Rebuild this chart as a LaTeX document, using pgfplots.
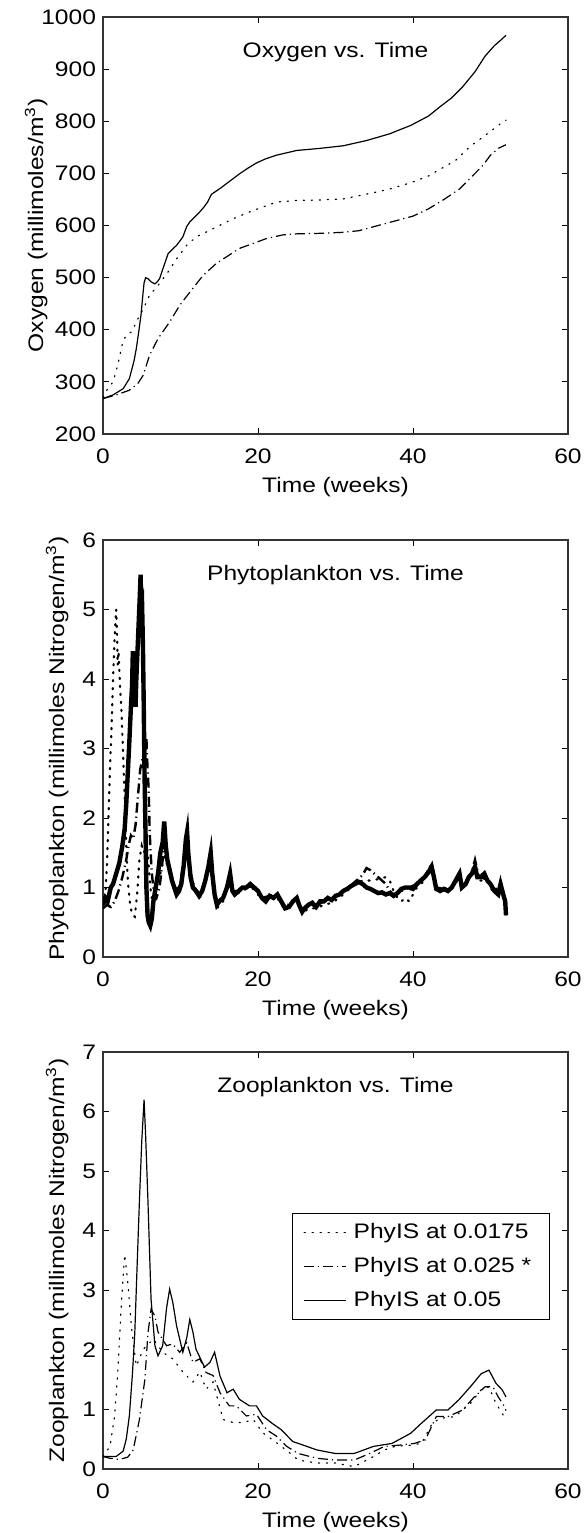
\documentclass[border=0pt]{standalone}
\usepackage{pgfplots}
\pgfplotsset{compat=1.18}
\usepackage{fontspec}
\setmainfont{Liberation Sans}[FakeStretch=1.17]
\newcommand{\fs}{\fontsize{10.5}{12.6}\selectfont}
\pgfplotsset{
  panel/.style={
    scale only axis, width=232.5pt, height=208.5pt,
    anchor=south west,
    xmin=0, xmax=60, xtick={0,20,40,60},
    tick align=inside, major tick length=3pt,
    tick style={black, line width=0.5pt},
    axis line style={line width=0.6pt, black!80},
    xlabel={Time (weeks)},
    label style={font=\fs},
    ticklabel style={font=\fs},
    xticklabel style={yshift=-4pt},
    xlabel style={yshift=0pt},
    /pgf/number format/assume math mode=true,
    /pgf/number format/1000 sep={},
    scaled ticks=false,
    every axis plot/.append style={black, line width=0.6pt},
  },
  sdot/.style={dash pattern=on 0.6pt off 3.4pt, line cap=round},
  sdd/.style={dash pattern=on 5pt off 2pt on 0.6pt off 2pt},
  ssol/.style={solid},
}
\begin{document}
\begin{tikzpicture}
\useasboundingbox (0pt,0pt) rectangle (293pt,-766.5pt);
% ---------------- Oxygen ----------------
\begin{axis}[panel, at={(51.5pt,-217pt)}, ymin=200, ymax=1000, ytick={200,300,...,1000},
  ylabel={Oxygen (millimoles/m\textsuperscript{3})}, ylabel shift=-10pt]
\addplot[sdot] coordinates {(0,270) (0.6,287) (1.3,300) (1.9,332) (2.6,380) (3.2,392) (3.7,396) (4.5,421) (5.2,440) (6.0,466) (7.1,485) (8.4,511) (9.5,536) (10.8,562) (12.0,578) (14.2,594) (16.8,613) (19.4,629) (22.4,645) (25,648) (28,649) (31,651) (34.9,663) (37,670) (39.7,682) (42,695) (43.5,708) (45.5,725) (47.4,752) (49.5,775) (51.7,800) (52,802)};
\addplot[sdd] coordinates {(0,268) (1.7,275) (3.4,284) (4.5,297) (5.2,313) (6.0,351) (7.1,383) (8.6,415) (9.9,447) (11.2,472) (12.9,504) (14.6,527) (17.6,556) (21.1,575) (23.2,582) (25,584) (28,585) (31,587) (33,590) (35,598) (38,610) (40,618) (42,632) (44,650) (46,670) (48,700) (49,715) (50,735) (51,748) (52,755)};
\addplot[ssol] coordinates {(0,268) (1.3,275) (2.6,287) (3.4,306) (4.0,340) (4.3,364) (4.6,395) (4.9,428) (5.1,460) (5.3,490) (5.5,500) (5.8,498) (6.2,492) (6.7,488) (7.0,492) (7.3,498) (7.8,520) (8.4,546) (9.0,555) (9.5,562) (10.3,578) (10.8,598) (11.2,607) (12.3,623) (13.0,635) (13.5,645) (14.0,660) (14.4,664) (15.2,672) (15.9,680) (16.8,690) (17.6,699) (18.7,710) (19.8,720) (21.0,728) (22.4,735) (25,744) (28,748) (31,753) (34,763) (37,776) (39.7,792) (42,810) (43.5,828) (45,845) (46.4,866) (48,895) (49.3,925) (50.5,945) (51.5,958) (52,965)};
\node[font=\fs] at (rel axis cs:0.5,0.915) {Oxygen vs. Time};
\end{axis}
% ---------------- Phytoplankton ----------------
\begin{axis}[panel, at={(51.5pt,-478.5pt)}, ymin=0, ymax=6, ytick={0,1,...,6},
  ylabel={Phytoplankton (millimoles Nitrogen/m\textsuperscript{3})}]
\addplot[sdot, line width=1.1pt] coordinates {(0,0.75) (0.3,0.9) (0.5,1.3) (0.7,2.0) (0.9,2.7) (1.1,3.3) (1.3,4.0) (1.5,4.6) (1.7,5.0) (1.8,4.7) (1.9,4.2) (2.0,4.4) (2.2,3.9) (2.4,3.5) (2.6,2.9) (2.8,2.3) (3.0,1.6) (3.2,1.1) (3.5,0.75) (3.8,0.6) (4.1,0.58) (4.4,0.9) (4.7,1.4) (5.0,1.6) (5.3,1.5) (5.6,1.7) (5.9,1.3) (6.2,0.9) (6.5,0.75) (6.8,0.9) (7.2,1.1) (7.6,1.3) (8.0,1.5) (8.3,1.3) (8.6,1.2) (9.0,1.05) (9.5,0.9) (10.0,1.0) (10.5,1.4) (10.8,1.7) (11.2,1.2) (11.8,0.95) (12.5,0.85) (13.2,1.05) (13.8,1.45) (14.2,1.1) (14.7,0.7) (15.5,0.8) (16.3,1.15) (16.8,0.9) (17.5,0.92) (18.5,0.98) (19.5,0.98) (20.5,0.82) (21.5,0.85) (22.5,0.85) (23.5,0.68) (24.5,0.78) (25.0,0.82) (25.7,0.62) (26.5,0.7) (27.5,0.7) (28.5,0.75) (29.5,0.78) (30.5,0.85) (31.5,0.95) (32.5,1.05) (33.5,1.1) (34.5,1.1) (35.5,1.12) (36.5,1.15) (37.0,1.1) (37.5,0.95) (38.0,0.85) (38.5,0.8) (39.0,0.85) (39.5,0.8) (40.0,0.9) (40.5,1.0) (41.5,1.1) (42.4,1.35) (43.0,1.0) (44.0,0.95) (45.0,0.98) (46.0,1.15) (46.5,1.0) (47.5,1.15) (48.0,1.35) (48.5,1.1) (49.5,1.1) (50.5,0.9) (51.3,1.0) (51.9,0.75) (52,0.55)};
\addplot[sdd, line width=1.2pt] coordinates {(0,0.7) (0.5,0.75) (1.0,0.72) (1.5,0.8) (2.0,0.95) (2.5,1.15) (3.0,1.4) (3.3,1.6) (3.6,1.75) (3.9,1.7) (4.2,1.9) (4.5,2.3) (4.8,2.7) (5.1,2.85) (5.4,2.9) (5.6,3.15) (5.75,2.7) (5.9,2.4) (6.0,1.9) (6.1,1.6) (6.3,1.2) (6.6,0.9) (6.9,0.85) (7.3,1.0) (7.7,1.4) (8.0,1.7) (8.3,1.4) (8.6,1.3) (9.0,1.1) (9.5,0.95) (10.0,1.05) (10.5,1.5) (10.85,1.75) (11.2,1.25) (11.8,1.0) (12.5,0.9) (13.2,1.1) (13.9,1.5) (14.3,1.0) (14.7,0.75) (15.5,0.85) (16.4,1.2) (16.8,0.95) (17.5,0.95) (18.5,1.02) (19.5,1.0) (20.5,0.85) (21.5,0.88) (22.5,0.9) (23.5,0.72) (24.5,0.8) (25.0,0.85) (25.7,0.66) (26.5,0.74) (27.5,0.74) (28.5,0.8) (29.5,0.82) (30.5,0.9) (31.5,0.98) (32.5,1.08) (33.5,1.18) (34.0,1.28) (34.5,1.25) (35.0,1.2) (35.5,1.15) (36.0,1.1) (36.5,1.05) (37.0,0.95) (37.5,0.9) (38.5,0.95) (39.5,1.0) (40.5,1.05) (41.5,1.15) (42.4,1.35) (43.0,1.0) (44.0,0.98) (45.0,1.0) (46.0,1.2) (46.4,1.0) (47.5,1.18) (48.0,1.4) (48.5,1.15) (49.5,1.12) (50.5,0.95) (51.3,1.05) (51.9,0.8) (52,0.6)};
\addplot[ssol, line width=2.2pt] coordinates {(0,0.75) (0.3,0.85) (0.6,0.8) (1.0,1.0) (1.3,1.05) (1.7,1.2) (2.1,1.35) (2.5,1.6) (2.8,1.85) (3.0,2.2) (3.2,2.65) (3.4,3.1) (3.6,3.6) (3.75,3.9) (3.85,4.4) (3.95,3.8) (4.1,4.2) (4.2,3.6) (4.3,4.0) (4.45,4.4) (4.6,4.8) (4.75,5.2) (4.85,5.5) (4.95,5.0) (5.05,5.05) (5.15,4.5) (5.25,3.7) (5.35,2.7) (5.5,1.7) (5.6,1.0) (5.75,0.6) (5.9,0.5) (6.1,0.45) (6.3,0.55) (6.5,0.8) (6.8,1.0) (7.1,1.2) (7.4,1.5) (7.7,1.65) (7.9,1.95) (8.1,1.6) (8.3,1.4) (8.6,1.25) (8.9,1.1) (9.2,1.0) (9.5,0.9) (9.8,0.95) (10.1,1.05) (10.4,1.3) (10.7,1.7) (10.85,1.8) (11.0,1.5) (11.3,1.15) (11.6,1.0) (12.0,0.95) (12.4,0.88) (12.8,0.95) (13.2,1.1) (13.6,1.3) (13.9,1.5) (14.1,1.2) (14.4,0.9) (14.7,0.75) (15.0,0.8) (15.5,0.85) (16.0,1.0) (16.4,1.2) (16.7,0.95) (17.0,0.9) (17.5,0.95) (18.0,1.0) (18.5,1.0) (19.0,1.05) (19.5,1.0) (20.0,0.95) (20.5,0.85) (21.0,0.8) (21.5,0.88) (22.0,0.85) (22.5,0.9) (23.0,0.8) (23.5,0.7) (24.0,0.72) (24.5,0.8) (25.0,0.85) (25.3,0.75) (25.7,0.65) (26.0,0.7) (26.5,0.75) (27.0,0.78) (27.5,0.72) (28.0,0.8) (28.5,0.8) (29.0,0.85) (29.5,0.82) (30.0,0.88) (30.5,0.9) (31.0,0.95) (31.5,0.98) (32.0,1.02) (32.5,1.05) (33.0,1.08) (33.5,1.05) (34.0,1.0) (34.5,0.98) (35.0,0.95) (35.5,0.92) (36.0,0.93) (36.5,0.9) (37.0,0.92) (37.5,0.88) (38.0,0.92) (38.5,0.98) (39.0,1.0) (39.5,1.0) (40.0,0.98) (40.5,1.05) (41.0,1.1) (41.5,1.15) (42.0,1.22) (42.4,1.3) (42.7,1.15) (43.0,0.98) (43.5,0.95) (44.0,0.98) (44.5,0.95) (45.0,1.0) (45.5,1.1) (46.0,1.2) (46.3,1.0) (46.8,1.05) (47.2,1.15) (47.6,1.2) (48.0,1.3) (48.3,1.15) (48.7,1.15) (49.2,1.2) (49.6,1.1) (50.0,1.05) (50.5,0.95) (51.0,0.9) (51.3,1.05) (51.6,0.92) (51.9,0.8) (52.0,0.6)};
\node[font=\fs] at (rel axis cs:0.5,0.915) {Phytoplankton vs. Time};
\end{axis}
% ---------------- Zooplankton ----------------
\begin{axis}[panel, at={(51.5pt,-734.5pt)}, ymin=0, ymax=7, ytick={0,1,...,7},
  ylabel={Zooplankton (millimoles Nitrogen/m\textsuperscript{3})},
  legend style={at={(0.961,0.615)}, anchor=north east, draw=black, line width=0.6pt,
    font=\fs, cells={anchor=west}, row sep=4pt,
    inner xsep=5.5pt, inner ysep=3pt, nodes={inner xsep=3.5pt, inner ysep=2pt}},
  legend image code/.code={\draw[#1] (0pt,0pt) -- (21pt,0pt);}]
\addplot[sdot] coordinates {(0,0.21) (0.9,0.38) (1.5,0.89) (1.9,1.61) (2.4,2.85) (2.8,3.6) (3.2,3.13) (3.7,2.35) (4.3,1.73) (5.2,2.01) (6.5,2.18) (7.7,1.96) (9.0,1.85) (10.3,1.63) (11.6,1.46) (12.5,1.63) (13.3,1.34) (14.2,1.46) (15.5,0.83) (16.8,0.78) (18.1,0.78) (19.4,0.83) (20.6,0.61) (22.4,0.44) (24.1,0.27) (25.2,0.15) (27.6,0.1) (30,0.1) (32.4,0.04) (34.9,0.21) (36.3,0.32) (37.7,0.38) (39.7,0.4) (41.1,0.43) (42.5,0.77) (43.5,0.85) (45.4,0.88) (47.4,1.1) (48.8,1.33) (49.8,1.38) (50.7,1.1) (51.5,0.94) (52,0.82)};
\addlegendentry{PhyIS at 0.0175}
\addplot[sdd] coordinates {(0,0.21) (0.9,0.18) (2.15,0.16) (3.2,0.2) (3.9,0.32) (4.7,0.83) (5.4,1.5) (5.8,2.28) (6.2,2.68) (6.7,2.57) (7.1,2.3) (8.2,2.07) (9.0,2.1) (9.9,1.96) (10.8,2.12) (11.6,1.79) (12.5,1.85) (13.3,1.62) (14.2,1.57) (15.1,1.28) (16.3,1.06) (17.2,1.06) (18.5,0.89) (19.8,0.92) (21.1,0.66) (22.4,0.55) (23.7,0.38) (25.2,0.26) (27.6,0.18) (30,0.15) (32.4,0.15) (34.4,0.26) (36.3,0.38) (38.2,0.4) (40.2,0.43) (41.6,0.49) (43,0.88) (44.5,0.88) (46.4,0.99) (47.9,1.21) (49.3,1.38) (50.3,1.38) (51,1.21) (51.8,1.05) (52,0.98)};
\addlegendentry{PhyIS at 0.025 *}
\addplot[ssol] coordinates {(0,0.21) (1.7,0.21) (2.6,0.3) (3.0,0.5) (3.4,0.89) (3.8,1.6) (4.1,2.28) (4.4,3.4) (4.7,4.5) (5.0,5.5) (5.3,6.2) (5.5,5.6) (5.8,4.5) (6.2,2.85) (6.7,2.07) (7.1,1.9) (7.7,2.07) (8.2,2.7) (8.6,3.02) (9.0,2.8) (9.5,2.4) (10.3,1.96) (10.8,2.2) (11.2,2.51) (11.6,2.3) (12.0,2.01) (13.1,1.71) (13.8,1.79) (14.4,1.96) (15.1,1.56) (16.0,1.28) (16.8,1.34) (17.6,1.17) (18.9,1.06) (19.8,1.06) (20.6,0.89) (22,0.75) (23,0.66) (24.5,0.46) (25.2,0.43) (27.6,0.32) (30,0.26) (32.4,0.26) (34.9,0.38) (37.3,0.43) (39.7,0.6) (41.1,0.77) (43,0.99) (44.5,0.99) (45.9,1.16) (47.4,1.38) (48.8,1.6) (49.8,1.66) (50.7,1.44) (51.5,1.33) (52,1.21)};
\addlegendentry{PhyIS at 0.05}
\node[font=\fs] at (rel axis cs:0.5,0.915) {Zooplankton vs. Time};
\end{axis}
\end{tikzpicture}
\end{document}
